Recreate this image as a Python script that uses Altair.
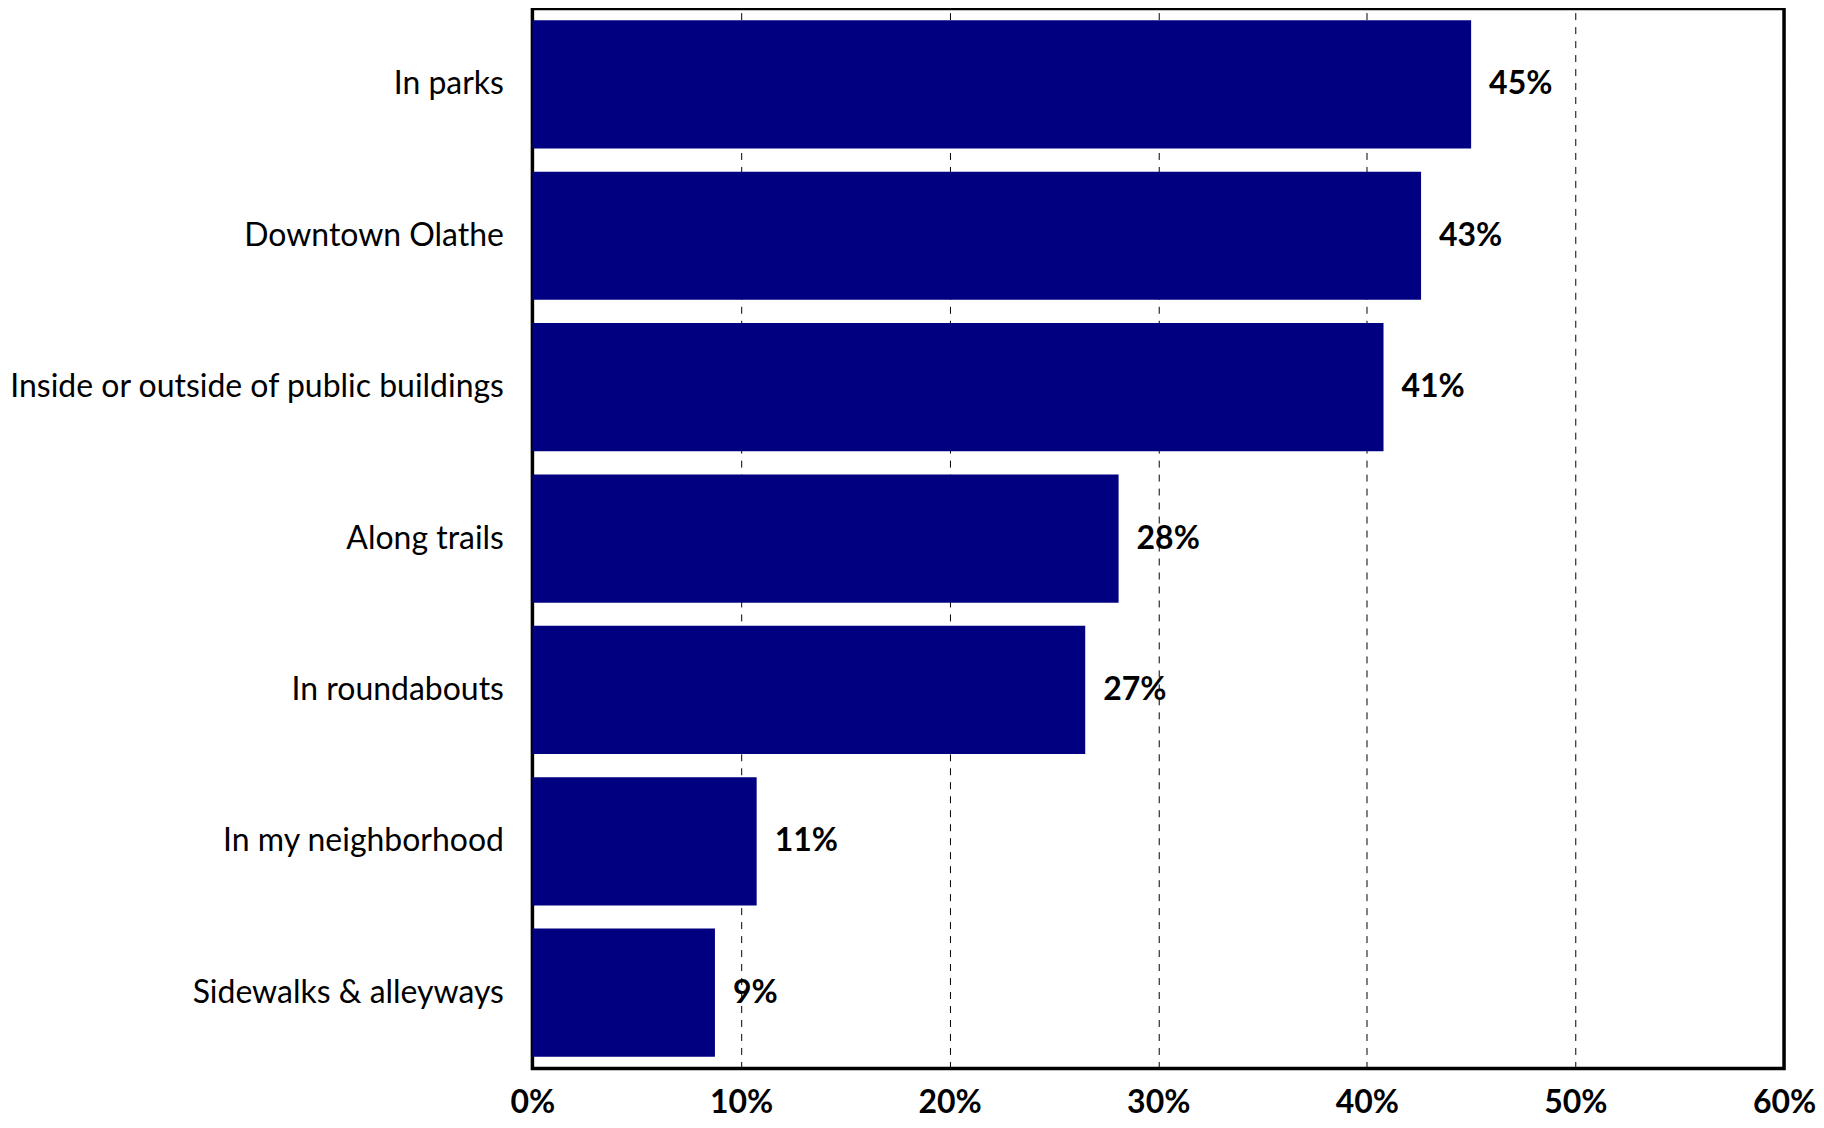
import altair as alt
import pandas as pd

categories = [
    "In parks",
    "Downtown Olathe",
    "Inside or outside of public buildings",
    "Along trails",
    "In roundabouts",
    "In my neighborhood",
    "Sidewalks & alleyways",
]
values = [0.450, 0.426, 0.408, 0.281, 0.265, 0.1075, 0.0875]
labels = ["45%", "43%", "41%", "28%", "27%", "11%", "9%"]
x_ticks = [0, 0.1, 0.2, 0.3, 0.4, 0.5, 0.6]

df = pd.DataFrame({"cat": categories, "val": values, "lab": labels})

FONT = "Lato"

y_enc = alt.Y(
    "cat:N",
    sort=categories,
    title=None,
    scale=alt.Scale(paddingInner=0.153, paddingOuter=0.077),
    axis=alt.Axis(
        labelFont=FONT,
        labelFontSize=32,
        labelColor="black",
        labelPadding=29,
        ticks=False,
        domain=False,
        labelLimit=0,
        minExtent=525,
        maxExtent=525,
    ),
)
x_enc = alt.X(
    "val:Q",
    title=None,
    scale=alt.Scale(domain=[0, 0.6], nice=False),
    axis=alt.Axis(
        values=x_ticks,
        format=".0%",
        labelFont=FONT,
        labelFontSize=32,
        labelFontWeight="bold",
        labelColor="black",
        labelPadding=19,
        labelFlush=False,
        ticks=False,
        domain=False,
        grid=True,
        gridColor="black",
        gridDash=[7, 7],
        gridWidth=1,
        gridOpacity=1,
    ),
)

bars = alt.Chart(df).mark_bar(color="#000080").encode(y=y_enc, x=x_enc)
text = alt.Chart(df).mark_text(
    align="left",
    baseline="middle",
    dx=18,
    font=FONT,
    fontSize=32,
    fontWeight="bold",
    color="black",
).encode(y=alt.Y("cat:N", sort=categories), x="val:Q", text="lab:N")

chart = (
    (bars + text)
    .properties(width=1253, height=1061, padding={"top": 0, "left": 0, "right": 0, "bottom": 0})
    .configure_view(stroke="black", strokeWidth=3.5, fill="white")
)

chart.save("out.html", embed_options={"renderer": "svg", "actions": False})
